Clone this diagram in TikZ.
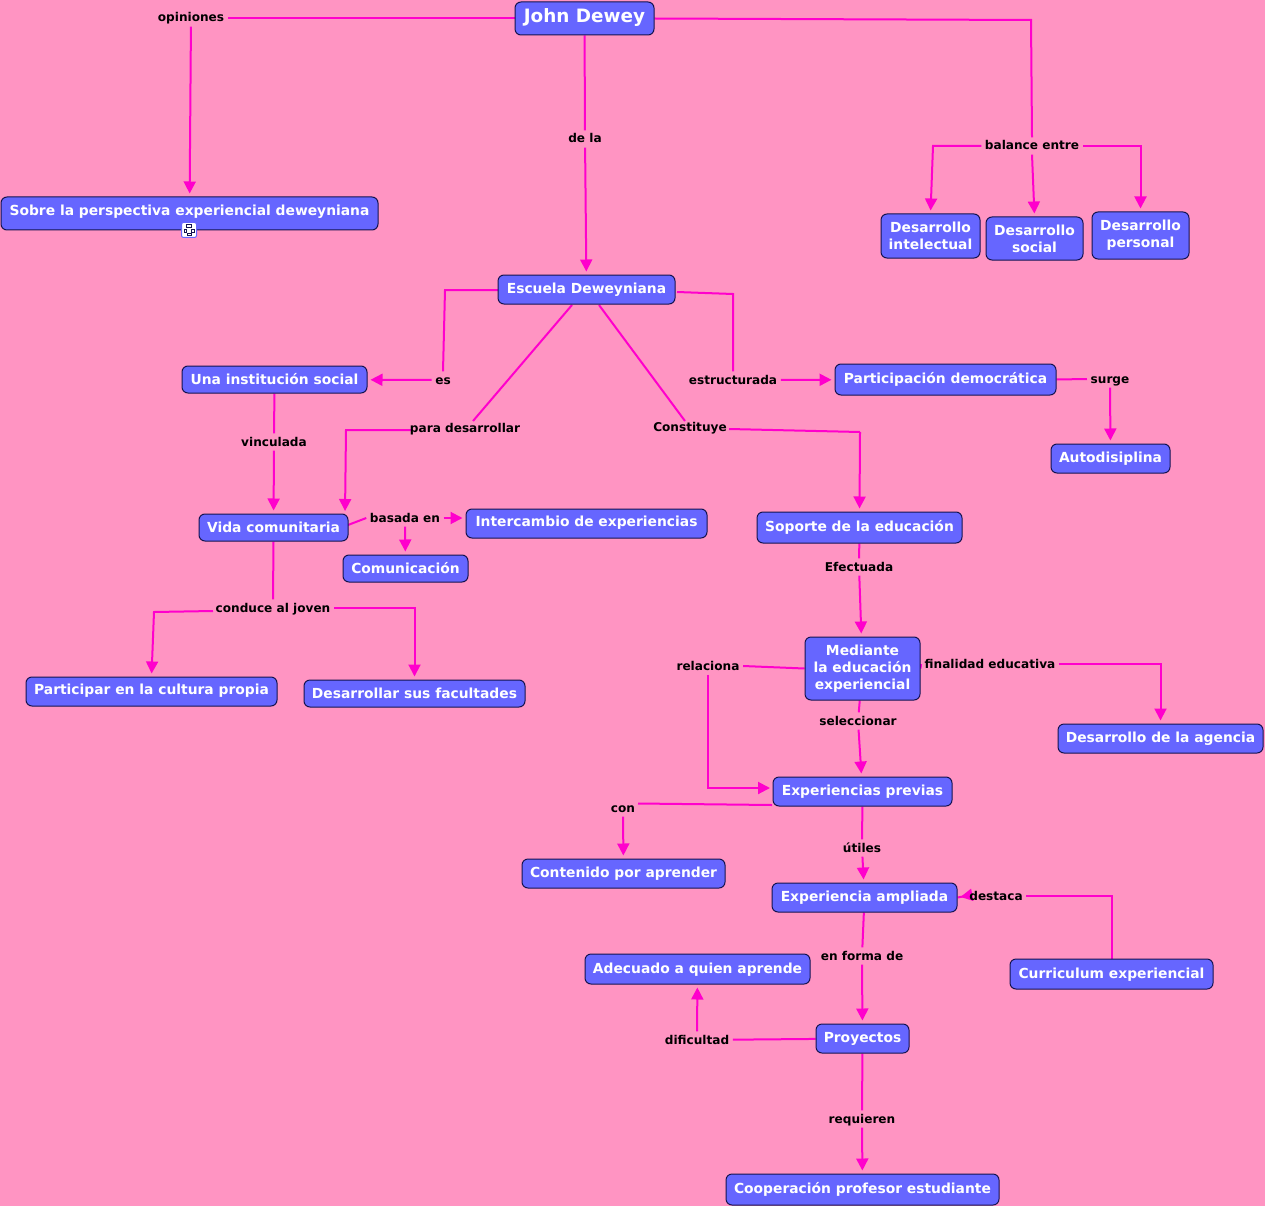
\documentclass[tikz,border=0pt]{standalone}
\usepackage{fontspec}
\setmainfont{DejaVu Sans}
\usetikzlibrary{arrows.meta,backgrounds}
\definecolor{mapbg}{RGB}{255,148,194}
\definecolor{mapbox}{RGB}{102,102,255}
\definecolor{mapline}{RGB}{255,0,204}
\definecolor{mapedge}{RGB}{20,20,80}
\tikzset{
	concept/.style={shape=rectangle,rounded corners=6pt,draw=mapedge,line width=1pt,fill=mapbox,text=white,
		font=\bfseries\fontsize{13.85}{17}\selectfont,align=center,inner sep=0pt,text height=11pt,text depth=3pt},
	multiline/.style={text height=,text depth=},
	lowtext/.style={text height=11pt,text depth=1pt},
	hightext/.style={text height=11pt,text depth=6pt},
	linklabel/.style={shape=rectangle,text=black,font=\bfseries\fontsize{12.1}{14}\selectfont,
		inner xsep=3.5pt,inner ysep=1.5pt,text height=11pt,text depth=3pt},
	conn/.style={draw=mapline,line width=2pt},
	connarrow/.style={conn,-{Triangle[length=12pt,width=12pt]},shorten >=3pt}
}
\begin{document}
\begin{tikzpicture}[x=1pt,y=-1pt]
	\useasboundingbox (0,0) rectangle (1265,1206);

	% concepts
	\node[concept,minimum width=139pt,minimum height=33pt,font=\bfseries\fontsize{18.4}{20}\selectfont] (dewey) at (584.5,18.5) {John Dewey};
	\node[concept,hightext,minimum width=377pt,minimum height=33pt] (sobre) at (189.5,213.5) {Sobre la perspectiva experiencial deweyniana};
	\node[concept,multiline,minimum width=99pt,minimum height=44pt] (intelectual) at (930.5,236) {Desarrollo\\intelectual};
	\node[concept,multiline,minimum width=97pt,minimum height=43pt] (social) at (1034.5,238.5) {Desarrollo\\social};
	\node[concept,multiline,minimum width=97pt,minimum height=47pt] (personal) at (1140.5,235.5) {Desarrollo\\personal};
	\node[concept,minimum width=177pt,minimum height=29pt] (escuela) at (586.5,289.5) {Escuela Deweyniana};
	\node[concept,lowtext,minimum width=185pt,minimum height=27pt] (institucion) at (274.5,379.5) {Una institución social};
	\node[concept,minimum width=221pt,minimum height=31pt] (participacion) at (945.5,379.5) {Participación democrática};
	\node[concept,minimum width=119pt,minimum height=29pt] (autodisiplina) at (1110.5,458.5) {Autodisiplina};
	\node[concept,lowtext,minimum width=149pt,minimum height=27pt] (vida) at (273.5,527.5) {Vida comunitaria};
	\node[concept,hightext,minimum width=241pt,minimum height=29pt] (intercambio) at (586.5,523.5) {Intercambio de experiencias};
	\node[concept,lowtext,minimum width=125pt,minimum height=27pt] (comunicacion) at (405.5,568.5) {Comunicación};
	\node[concept,minimum width=205pt,minimum height=31pt] (soporte) at (859.5,527.5) {Soporte de la educación};
	\node[concept,hightext,minimum width=251pt,minimum height=29pt] (cultura) at (151.5,691.5) {Participar en la cultura propia};
	\node[concept,lowtext,minimum width=221pt,minimum height=27pt] (facultades) at (414.5,693.5) {Desarrollar sus facultades};
	\node[concept,multiline,minimum width=115pt,minimum height=63pt] (mediante) at (862.5,668.5) {Mediante\\la educación\\experiencial};
	\node[concept,minimum width=205pt,minimum height=29pt] (agencia) at (1160.5,738.5) {Desarrollo de la agencia};
	\node[concept,minimum width=179pt,minimum height=29pt] (previas) at (862.5,791.5) {Experiencias previas};
	\node[concept,minimum width=203pt,minimum height=29pt] (contenido) at (623.5,873.5) {Contenido por aprender};
	\node[concept,minimum width=185pt,minimum height=29pt] (ampliada) at (864.5,897.5) {Experiencia ampliada};
	\node[concept,minimum width=225pt,minimum height=30pt] (adecuado) at (697.5,969) {Adecuado a quien aprende};
	\node[concept,minimum width=203pt,minimum height=30pt] (curriculum) at (1111.5,974) {Curriculum experiencial};
	\node[concept,minimum width=93pt,minimum height=29pt] (proyectos) at (862.5,1038.5) {Proyectos};
	\node[concept,minimum width=273pt,minimum height=31pt] (cooperacion) at (862.5,1189.5) {Cooperación profesor estudiante};

	% icon under the first concept
	\node[shape=rectangle,rounded corners=2pt,draw=blue!60,line width=1pt,fill=white,minimum size=15pt,inner sep=0pt] (icono) at (189,230) {};
	\draw[mapedge,line width=.8pt] (icono.center) ++(-2.5,-5.5) rectangle ++(5,2.5) (icono.center) ++(-5,-.5) rectangle ++(2.5,2.5) (icono.center) ++(2.5,-.5) rectangle ++(2.5,2.5) (icono.center) ++(-2,3.5) rectangle ++(4,2);

	% link labels
	\node[linklabel] (opiniones) at (191,18) {opiniones};
	\node[linklabel] (dela) at (585,139) {de la};
	\node[linklabel] (balance) at (1032,146) {balance entre};
	\node[linklabel] (es) at (443,380) {es};
	\node[linklabel] (estructurada) at (733,380) {estructurada};
	\node[linklabel] (paradesarrollar) at (465,428) {para desarrollar};
	\node[linklabel] (constituye) at (690,427) {Constituye};
	\node[linklabel] (surge) at (1110,379) {surge};
	\node[linklabel] (vinculada) at (274,442) {vinculada};
	\node[linklabel] (basada) at (405,518) {basada en};
	\node[linklabel] (efectuada) at (859,567) {Efectuada};
	\node[linklabel] (conduce) at (273,608) {conduce al joven};
	\node[linklabel] (relaciona) at (708,666) {relaciona};
	\node[linklabel] (finalidad) at (990,664) {finalidad educativa};
	\node[linklabel] (seleccionar) at (858,721) {seleccionar};
	\node[linklabel] (con) at (623,808) {con};
	\node[linklabel] (utiles) at (862,848) {útiles};
	\node[linklabel] (destaca) at (996,896) {destaca};
	\node[linklabel] (enforma) at (862,956) {en forma de};
	\node[linklabel] (dificultad) at (697,1040) {dificultad};
	\node[linklabel] (requieren) at (862,1119) {requieren};

	% free ends and bends
	\coordinate (deweyCorner) at (1031,20);
	\coordinate (balanceCorner) at (933,146);
	\coordinate (escuelaWest) at (498,290);
	\coordinate (esCorner) at (445,290);
	\coordinate (escuelaEast) at (677,292);
	\coordinate (estrCorner) at (733,294);
	\coordinate (escuelaLeft) at (572,305);
	\coordinate (escuelaRight) at (599,305);
	\coordinate (paraTop) at (473,421);
	\coordinate (constTop) at (685,421);
	\coordinate (paraWest) at (411,430);
	\coordinate (paraCorner) at (346,430);
	\coordinate (vidaRight) at (345,514);
	\coordinate (vidaEast) at (348,525);
	\coordinate (constEast) at (729,429);
	\coordinate (constCorner) at (860,432);
	\coordinate (conduceWest) at (213,611);
	\coordinate (conduceCorner) at (154,612);
	\coordinate (previasLeft) at (773,788);
	\coordinate (previasLow) at (772,805);
	\coordinate (conRight) at (638,803.5);

	\begin{scope}[on background layer]
	\fill[mapbg] (0,0) rectangle (1265,1206);

	\draw[conn] (dewey.west) -- (dewey.west -| opiniones.east);
	\draw[connarrow] (opiniones) -- (sobre);
	\draw[conn] (dewey) -- (dela);
	\draw[connarrow] (dela) -- (escuela);
	\draw[conn] (dewey.east) -- (deweyCorner) -- (balance.north);
	\draw[connarrow] (balance.west) -- (balanceCorner) -- (intelectual.north);
	\draw[connarrow] (balance.south) -- (social.north);
	\draw[connarrow] (balance.east) -| (personal.north);

	\draw[conn] (escuelaWest) -- (esCorner) -- (es.north);
	\draw[connarrow] (es) -- (institucion);
	\draw[conn] (escuelaEast) -- (estrCorner) -- (estructurada.north);
	\draw[connarrow] (estructurada) -- (participacion);
	\draw[conn] (escuelaLeft) -- (paraTop);
	\draw[connarrow] (paraWest) -- (paraCorner) -- (vidaRight);
	\draw[conn] (escuelaRight) -- (constTop);
	\draw[conn] (constEast) -- (constCorner);
	\draw[connarrow] (constCorner) -- (soporte.north);

	\draw[conn] (participacion.east) -- (surge.west);
	\draw[connarrow] (surge) -- (autodisiplina);
	\draw[conn] (institucion) -- (vinculada);
	\draw[connarrow] (vinculada) -- (vida);
	\draw[conn] (vidaEast) -- (basada.west);
	\draw[connarrow] (basada.east) -- (basada.east -| intercambio.west);
	\draw[connarrow] (basada) -- (comunicacion);
	\draw[conn] (vida.south) -- (conduce.north);
	\draw[connarrow] (conduceWest) -- (conduceCorner) -- (cultura.north);
	\draw[connarrow] (conduce.east) -| (facultades.north);

	\draw[conn] (soporte) -- (efectuada);
	\draw[connarrow] (efectuada) -- (mediante);
	\draw[conn] (mediante.west) -- (relaciona.east);
	\draw[connarrow] (relaciona.south) |- (previasLeft);
	\draw[conn] (mediante.east) -- (finalidad.west);
	\draw[connarrow] (finalidad.east) -| (agencia.north);
	\draw[conn] (mediante) -- (seleccionar);
	\draw[connarrow] (seleccionar) -- (previas);

	\draw[conn] (previasLow) -- (conRight);
	\draw[connarrow] (con) -- (contenido);
	\draw[conn] (previas) -- (utiles);
	\draw[connarrow] (utiles) -- (ampliada);
	\draw[conn] (curriculum.north) |- (destaca.east);
	\draw[connarrow,shorten <=-8pt] (destaca.west) -- (ampliada.east);
	\draw[conn] (ampliada) -- (enforma);
	\draw[connarrow] (enforma) -- (proyectos);
	\draw[conn] (proyectos) -- (dificultad);
	\draw[connarrow] (dificultad) -- (adecuado);
	\draw[conn] (proyectos) -- (requieren);
	\draw[connarrow] (requieren) -- (cooperacion);
	\end{scope}
\end{tikzpicture}
\end{document}
